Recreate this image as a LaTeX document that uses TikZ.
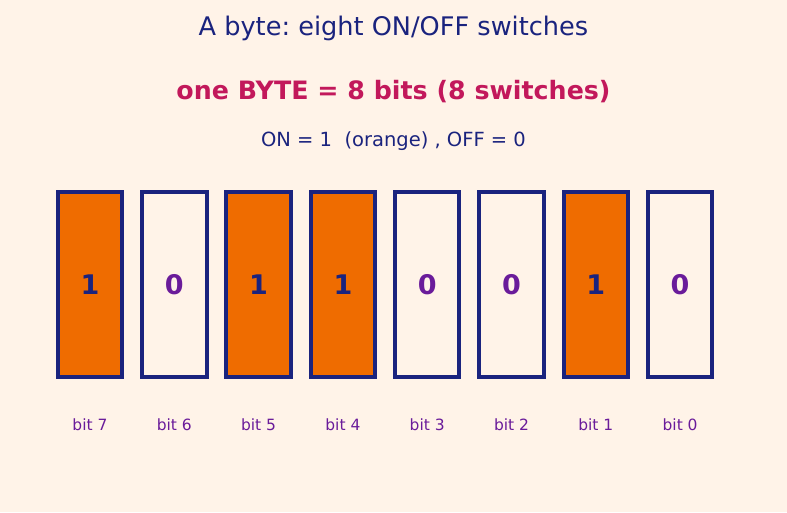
\documentclass[tikz,border=0pt]{standalone}
\usepackage{fontspec}
\setmainfont{DejaVu Sans}
\frenchspacing
\definecolor{bgc}{HTML}{FFF3E8}
\definecolor{navy}{HTML}{1A237E}
\definecolor{crim}{HTML}{C2185B}
\definecolor{orng}{HTML}{EF6C00}
\definecolor{purp}{HTML}{6A1B9A}
\begin{document}
\begin{tikzpicture}[x=1pt,y=1pt,
  bitbox/.style={draw=navy,line width=4pt,minimum width=64.5pt,minimum height=184pt,inner sep=0pt,font=\fontsize{27}{32}\bfseries\selectfont},
  onbox/.style={bitbox,fill=orng,text=navy},
  offbox/.style={bitbox,fill=bgc,text=purp},
  bitlabel/.style={text=purp,font=\fontsize{15.5}{18}\selectfont}]
\fill[bgc] (0,0) rectangle (787,512);
\useasboundingbox (0,0) rectangle (787,512);
\node[text=navy,font=\fontsize{25.6}{30}\selectfont] (title) at (393.5,484) {A byte: eight ON/OFF switches};
\node[text=crim,font=\fontsize{25.3}{30}\bfseries\selectfont] (sub) at (393.5,420) {one BYTE = 8 bits (8 switches)};
\node[text=navy,font=\fontsize{19.5}{23}\selectfont] (legend) at (393.5,370.5) {ON = 1\ \ (orange) , OFF = 0};
\foreach \i/\v/\s in {0/1/onbox,1/0/offbox,2/1/onbox,3/1/onbox,4/0/offbox,5/0/offbox,6/1/onbox,7/0/offbox}{
  \pgfmathsetmacro{\xx}{90+84.3*\i}
  \pgfmathtruncatemacro{\bn}{7-\i}
  \node[\s] (b\i) at (\xx,227.5) {\v};
  \node[bitlabel] (l\i) at (\xx,87) {bit \bn};
}
\end{tikzpicture}
\end{document}
